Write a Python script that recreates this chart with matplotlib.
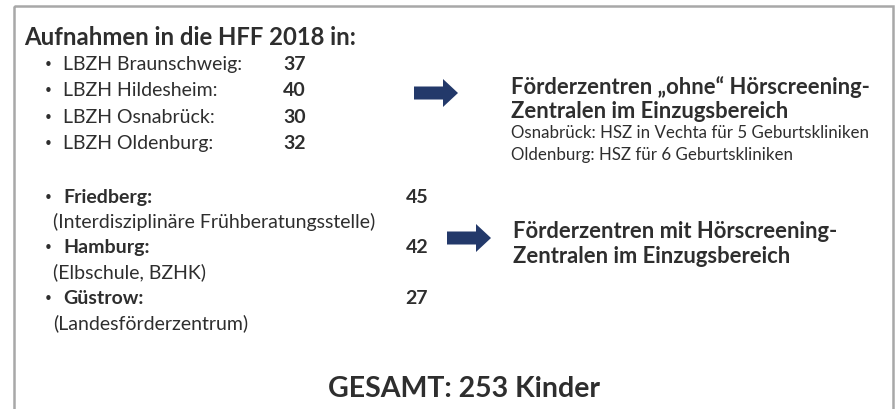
import matplotlib.pyplot as plt
from matplotlib.patches import Rectangle, FancyArrow

plt.rcParams['font.family'] = ['Lato', 'DejaVu Sans']

title = "Aufnahmen in die HFF 2018 in:"
lbzh_names = ["LBZH Braunschweig:", "LBZH Hildesheim:", "LBZH Osnabrück:", "LBZH Oldenburg:"]
lbzh_counts = [37, 40, 30, 32]
other_names = ["Friedberg:", "Hamburg:", "Güstrow:"]
other_notes = ["(Interdisziplinäre Frühberatungsstelle)", "(Elbschule, BZHK)", "(Landesförderzentrum)"]
other_counts = [45, 42, 27]
note1_head = ["Förderzentren \u201eohne\u201c Hörscreening-", "Zentralen im Einzugsbereich"]
note1_sub = ["Osnabrück: HSZ in Vechta für 5 Geburtskliniken", "Oldenburg: HSZ für 6 Geburtskliniken"]
note2_head = ["Förderzentren mit Hörscreening-", "Zentralen im Einzugsbereich"]
total = sum(lbzh_counts) + sum(other_counts)

txt = "#2e2e2e"
navy = "#23396a"

fig = plt.figure(figsize=(8.96, 4.10), dpi=100)
ax = fig.add_axes([0, 0, 1, 1])
ax.set_xlim(0, 896)
ax.set_ylim(410, 0)
ax.axis("off")

# frame of the slide
ax.add_patch(Rectangle((14, 7), 879, 420, fill=False, ec="#a8a8a8", lw=1.8))

ax.text(24, 45, title, fontsize=17.2, fontweight="bold", color=txt, va="baseline")

y = 70
for name, n in zip(lbzh_names, lbzh_counts):
    ax.text(44, y, "\u2022", fontsize=11, color=txt, va="baseline", family="DejaVu Sans")
    ax.text(63, y, name, fontsize=14, color=txt, va="baseline")
    ax.text(283, y, str(n), fontsize=14, fontweight="bold", color=txt, va="baseline")
    y += 26.5

y = 203
for name, note, n in zip(other_names, other_notes, other_counts):
    ax.text(44, y, "\u2022", fontsize=11, color=txt, va="baseline", family="DejaVu Sans")
    ax.text(63, y, name, fontsize=14, fontweight="bold", color=txt, va="baseline")
    ax.text(428, y, str(n), fontsize=14, fontweight="bold", color=txt, va="baseline", ha="right")
    ax.text(53, y + 25, note, fontsize=14, color=txt, va="baseline")
    y += 50.5

# arrows
ax.add_patch(FancyArrow(414, 94, 44, 0, width=13, head_width=28, head_length=15,
                        length_includes_head=True, color=navy, lw=0))
ax.add_patch(FancyArrow(447, 239, 44, 0, width=13, head_width=28, head_length=15,
                        length_includes_head=True, color=navy, lw=0))

ax.text(511, 94, note1_head[0], fontsize=15.8, fontweight="bold", color=txt, va="baseline")
ax.text(511, 118, note1_head[1], fontsize=15.8, fontweight="bold", color=txt, va="baseline")
ax.text(511, 138, note1_sub[0], fontsize=12.2, color=txt, va="baseline")
ax.text(511, 160, note1_sub[1], fontsize=12.2, color=txt, va="baseline")

ax.text(513, 238, note2_head[0], fontsize=15.8, fontweight="bold", color=txt, va="baseline")
ax.text(513, 263, note2_head[1], fontsize=15.8, fontweight="bold", color=txt, va="baseline")

ax.text(464, 397, f"GESAMT: {total} Kinder", fontsize=20.5, fontweight="bold", color=txt,
        va="baseline", ha="center")

fig.savefig("out.png", dpi=100, facecolor="white")
